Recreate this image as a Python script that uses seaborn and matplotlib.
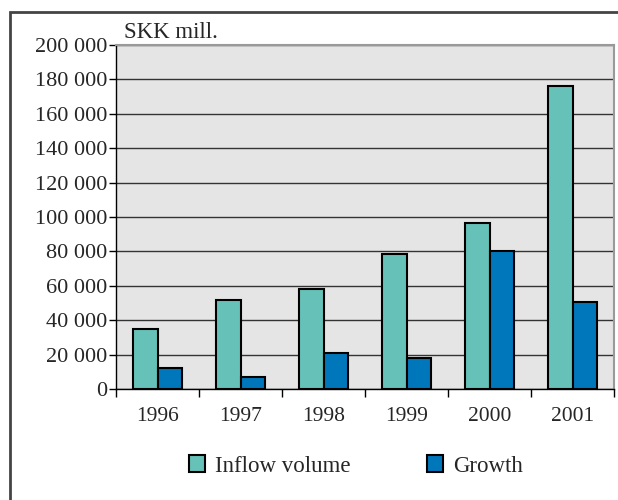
import pandas as pd
import seaborn as sns
import matplotlib.pyplot as plt
from matplotlib.patches import Rectangle
from matplotlib.ticker import FuncFormatter

years = ['1996', '1997', '1998', '1999', '2000', '2001']
inflow_volume = [35000, 52000, 58000, 78500, 96500, 176000]
growth = [12000, 7000, 21000, 18000, 80000, 50500]
series_names = ['Inflow volume', 'Growth']
y_ticks = list(range(0, 200001, 20000))

df = pd.DataFrame({
    'year': years * 2,
    'value': inflow_volume + growth,
    'series': [series_names[0]] * len(years) + [series_names[1]] * len(years),
})

sns.set_style('white')
plt.rcParams['font.family'] = ['Liberation Serif', 'DejaVu Serif']

fig = plt.figure(figsize=(6.18, 5), dpi=100)
ax = fig.add_axes([116 / 618, 111 / 500, 498 / 618, 344 / 500])
ax.set_facecolor('#e5e5e5')

sns.barplot(
    data=df, x='year', y='value', hue='series', order=years,
    hue_order=series_names, palette=['#66c2b8', '#0077bb'],
    width=0.6, edgecolor='black', linewidth=1.5, saturation=1,
    errorbar=None, ax=ax, zorder=3,
)

ax.set_ylim(0, 200000)
ax.set_xlim(-0.5, len(years) - 0.5)
ax.set_yticks(y_ticks)
ax.yaxis.set_major_formatter(FuncFormatter(lambda v, _: f'{int(v):,}'.replace(',', ' ')))
ax.yaxis.grid(True, color='#333333', linewidth=1)
ax.set_axisbelow(True)

# ticks at category boundaries, labels at centres
ax.set_xticks([i - 0.5 for i in range(len(years) + 1)])
ax.set_xticklabels([])
ax.set_xticks(range(len(years)), minor=True)
ax.set_xticklabels(years, minor=True)
ax.tick_params(axis='x', which='major', direction='out', length=6, width=1, color='black')
ax.tick_params(axis='x', which='minor', length=0, pad=13, labelsize=15.5)
ax.tick_params(axis='y', direction='out', length=5, width=1, color='black', labelsize=16, pad=1)
ax.tick_params(left=True, bottom=True)

ax.set_xlabel('')
ax.set_ylabel('')
for side in ['top', 'right']:
    ax.spines[side].set_color('#999999')
    ax.spines[side].set_linewidth(1.5)
for side in ['left', 'bottom']:
    ax.spines[side].set_color('black')
    ax.spines[side].set_linewidth(1)

fig.text(124 / 618, 1 - 32 / 500, 'SKK mill.', fontsize=16.5, va='center', ha='left')

handles, labels = ax.get_legend_handles_labels()
ax.legend_.remove()
fig.legend(
    handles, labels, ncol=2, loc='center', bbox_to_anchor=(0.576, 0.068),
    frameon=False, fontsize=16.5, handlelength=0.7, handleheight=0.7,
    columnspacing=3.3, handletextpad=0.45,
)

fig.add_artist(Rectangle((10 / 618, -0.1), 1.2, 1.1 - 12 / 500, transform=fig.transFigure,
                         fill=False, edgecolor='#444444', linewidth=2))

fig.savefig('out.png', dpi=100)
